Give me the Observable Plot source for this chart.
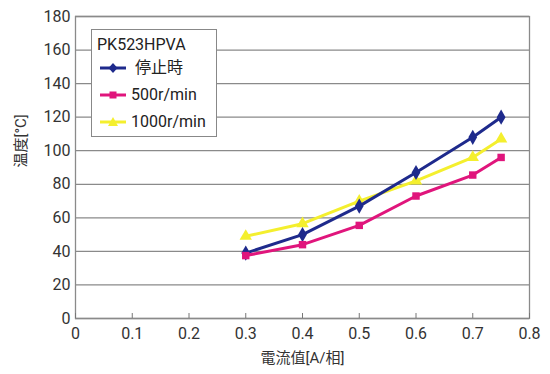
<!DOCTYPE html>
<html><head><meta charset="utf-8">
<script src="https://cdn.jsdelivr.net/npm/d3@7"></script>
<script src="https://cdn.jsdelivr.net/npm/@observablehq/plot@0.6"></script>
<style>
body{margin:0;background:#fff;}
#wrap{position:relative;width:550px;height:374px;font-family:Roboto,"Noto Sans CJK JP",sans-serif;}
#legend{position:absolute;left:91px;top:29px;width:126px;height:108px;background:#fff;border:1px solid #888;box-sizing:border-box;font-size:16px;line-height:18px;color:#222;}
#legend .t{position:absolute;left:5px;top:6px;}
#legend .row{position:absolute;left:8px;height:20px;display:flex;align-items:center;}
#legend .row span{margin-left:5px;}
</style></head>
<body><div id="wrap"><div id="legend"></div></div>
<script>
const xs = [0.3, 0.4, 0.5, 0.6, 0.7, 0.75];
const seriesNames = ["停止時", "500r/min", "1000r/min"];
const stopped = [39, 50, 67, 87, 108, 120];
const r500 = [37.5, 44, 55.5, 73, 85.5, 96];
const r1000 = [49, 56.5, 70, 82, 96, 107];
const colors = ["#1e2a8c", "#e0157c", "#f4ef2e"];
const symbols = ["diamond", "square", "triangle"];
const xTicks = [0, 0.1, 0.2, 0.3, 0.4, 0.5, 0.6, 0.7, 0.8];
const yTicks = [0, 20, 40, 60, 80, 100, 120, 140, 160, 180];
const legendTitle = "PK523HPVA";

const values = [stopped, r500, r1000];
const data = [];
values.forEach((vals, i) => vals.forEach((v, j) => data.push({s: seriesNames[i], x: xs[j], y: v})));
const order = [2, 0, 1];

const marks = [
  Plot.gridY(yTicks, {stroke: "#8a8a8a", strokeOpacity: 1, strokeWidth: 1.3}),
  Plot.frame({stroke: "#8a8a8a", strokeWidth: 1.3}),
  Plot.axisX(xTicks, {tickSize: 5, dy: -5, text: null, stroke: "#777", label: null}),
  Plot.axisX(xTicks, {tickSize: 0, tickPadding: 9, tickFormat: d => d === 0 ? "0" : d3.format(".1f")(d), fontSize: 16, fill: "#333", label: null}),
  Plot.axisY(yTicks, {tickSize: 0, tickPadding: 5, fontSize: 16, fill: "#333", label: null})
];
order.forEach(i => {
  const d = data.filter(e => e.s === seriesNames[i]);
  marks.push(Plot.line(d, {x: "x", y: "y", stroke: colors[i], strokeWidth: 3}));
  marks.push(Plot.dot(d, {x: "x", y: "y", fill: colors[i], symbol: symbols[i], r: i === 1 ? 4.2 : 4.6}));
});
marks.push(Plot.text(["電流值[A/相]"], {frameAnchor: "bottom", dy: 44, fontSize: 15, fill: "#333"}));
marks.push(Plot.text(["温度[°C]"], {frameAnchor: "left", dx: -54, rotate: -90, fontSize: 15, fill: "#333"}));

const chart = Plot.plot({
  width: 550, height: 374,
  marginLeft: 75, marginRight: 21, marginTop: 16, marginBottom: 56,
  style: {fontFamily: 'Roboto,"Noto Sans CJK JP",sans-serif', background: "#fff", overflow: "visible"},
  x: {domain: [0, 0.8]},
  y: {domain: [0, 180]},
  marks
});
document.getElementById("wrap").prepend(chart);

const leg = document.getElementById("legend");
const t = document.createElement("div"); t.className = "t"; t.textContent = legendTitle; leg.appendChild(t);
const shapes = [
  c => `<polygon points="13,5 17.5,10 13,15 8.5,10" fill="${c}"/>`,
  c => `<rect x="9.5" y="6.5" width="7" height="7" fill="${c}"/>`,
  c => `<polygon points="13,5 18,14 8,14" fill="${c}"/>`
];
seriesNames.forEach((n, i) => {
  const r = document.createElement("div"); r.className = "row"; r.style.top = (28 + i * 27) + "px";
  r.innerHTML = `<svg width="26" height="20"><line x1="0" x2="26" y1="10" y2="10" stroke="${colors[i]}" stroke-width="3"/>${shapes[i](colors[i])}</svg><span>${i === 0 ? "&nbsp;" : ""}${n}</span>`;
  leg.appendChild(r);
});
</script></body></html>
